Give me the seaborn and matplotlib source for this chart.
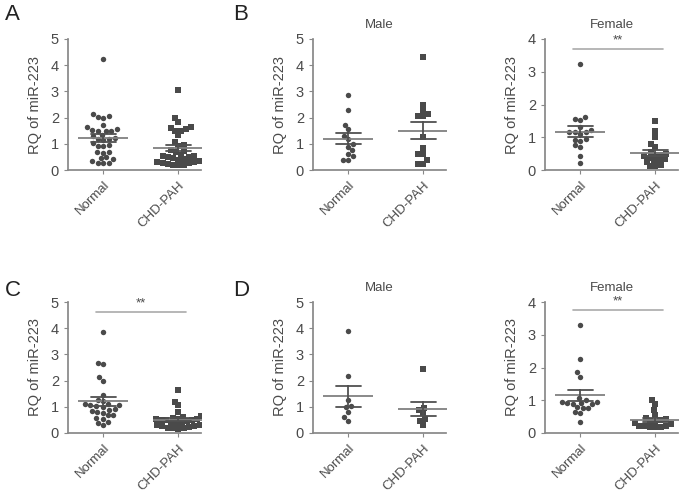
import pandas as pd
import matplotlib
matplotlib.use('Agg')
import matplotlib.pyplot as plt
import seaborn as sns

groups = ['Normal', 'CHD-PAH']

# A: all patients
a_normal = [4.25, 2.14, 2.05, 2.03, 1.97, 1.72, 1.63, 1.55, 1.52, 1.5, 1.5, 1.5, 1.35, 1.3,
            1.22, 1.2, 1.18, 1.15, 1.03, 0.95, 0.93, 0.9, 0.7, 0.68, 0.65, 0.48, 0.45, 0.42,
            0.35, 0.28, 0.27, 0.27]
a_chd = [3.05, 1.97, 1.82, 1.63, 1.6, 1.55, 1.5, 1.47, 1.33, 1.05, 0.95, 0.9, 0.78, 0.72,
         0.7, 0.58, 0.55, 0.52, 0.5, 0.48, 0.45, 0.42, 0.4, 0.35, 0.32, 0.3, 0.28, 0.25,
         0.22, 0.2, 0.2, 0.18]

# B: by sex
b_male_normal = [2.88, 2.28, 1.72, 1.55, 1.3, 1.18, 1.0, 0.88, 0.75, 0.62, 0.52, 0.4, 0.4]
b_male_chd = [4.3, 2.5, 2.3, 2.15, 2.08, 2.05, 1.25, 0.85, 0.6, 0.6, 0.38, 0.22, 0.22]
b_female_normal = [3.25, 1.63, 1.55, 1.52, 1.3, 1.22, 1.17, 1.15, 1.15, 1.1, 0.95, 0.92,
                   0.9, 0.75, 0.7, 0.42, 0.2]
b_female_chd = [1.5, 1.2, 1.0, 0.8, 0.7, 0.55, 0.5, 0.45, 0.45, 0.42, 0.38, 0.33, 0.3,
                0.28, 0.25, 0.15, 0.13, 0.13]

# C: all patients (second cohort)
c_normal = [3.85, 2.68, 2.62, 2.15, 2.0, 1.45, 1.25, 1.22, 1.12, 1.1, 1.05, 1.05, 1.02,
            1.0, 0.9, 0.88, 0.85, 0.82, 0.78, 0.7, 0.68, 0.58, 0.55, 0.42, 0.4, 0.3]
c_chd = [1.65, 1.2, 1.05, 0.82, 0.65, 0.62, 0.58, 0.55, 0.55, 0.52, 0.5, 0.5, 0.48, 0.45,
         0.4, 0.38, 0.35, 0.32, 0.3, 0.28, 0.25, 0.22, 0.2, 0.18, 0.18, 0.17]

# D: by sex
d_male_normal = [3.88, 2.18, 1.25, 1.02, 0.98, 0.8, 0.6, 0.45]
d_male_chd = [2.45, 0.97, 0.88, 0.75, 0.55, 0.45, 0.3]
d_female_normal = [3.3, 2.27, 1.85, 1.72, 1.07, 1.0, 0.95, 0.94, 0.93, 0.92, 0.9, 0.9,
                   0.8, 0.77, 0.75, 0.65, 0.6, 0.35]
d_female_chd = [1.02, 0.9, 0.7, 0.55, 0.46, 0.43, 0.41, 0.38, 0.34, 0.3, 0.28, 0.22, 0.2,
                0.2, 0.18, 0.18, 0.17]

sns.set_theme(style='ticks')
plt.rcParams['font.family'] = ['Liberation Sans', 'DejaVu Sans']
plt.rcParams['axes.edgecolor'] = '#888888'
plt.rcParams['xtick.color'] = '#888888'
plt.rcParams['ytick.color'] = '#888888'
plt.rcParams['xtick.labelcolor'] = '#4a4a4a'
plt.rcParams['ytick.labelcolor'] = '#4a4a4a'

fig = plt.figure(figsize=(7, 4.93), dpi=100)

W, H = 700, 493


def make_axes(left_px, top_px, bottom_px, width_px=133):
    return fig.add_axes([left_px / W, 1 - bottom_px / H, width_px / W, (bottom_px - top_px) / H])


def panel(ax, normal, chd, ymax, title=None, sig=None):
    df = pd.DataFrame({
        'group': ['Normal'] * len(normal) + ['CHD-PAH'] * len(chd),
        'value': normal + chd,
    })
    sns.swarmplot(data=df[df['group'] == 'Normal'], x='group', y='value', order=groups,
                  marker='o', color='#4a4a4a', size=3.9, linewidth=0, ax=ax, zorder=2)
    sns.swarmplot(data=df[df['group'] == 'CHD-PAH'], x='group', y='value', order=groups,
                  marker='s', color='#4a4a4a', size=3.7, linewidth=0, ax=ax, zorder=2)
    sns.pointplot(data=df, x='group', y='value', order=groups, estimator='mean',
                  errorbar='se', capsize=0.34, marker='_', markersize=36,
                  markeredgewidth=1.3, linestyle='none', color='#808080',
                  err_kws={'color': '#505050', 'linewidth': 1.3}, ax=ax)
    ax.set_xlim(-0.47, 1.3)
    ax.set_ylim(0, ymax)
    ax.set_yticks(range(0, ymax + 1))
    ax.set_xlabel('')
    ax.set_ylabel('RQ of miR-223', fontsize=10.5, color='#4a4a4a', labelpad=6)
    ax.tick_params(axis='both', labelsize=10.5, length=3, width=0.8)
    ax.tick_params(axis='x', labelsize=9.5)
    for lab in ax.get_xticklabels():
        lab.set_rotation(45)
        lab.set_ha('right')
        lab.set_rotation_mode('anchor')
    sns.despine(ax=ax)
    if title:
        ax.text(0.5, 1.11, title, transform=ax.transAxes, ha='center', va='center',
                fontsize=9.5, color='#4a4a4a')
    if sig is not None:
        ax.plot([-0.1, 1.1], [sig, sig], color='#aaaaaa', linewidth=1.2, clip_on=False)
        ax.text(0.5, sig + 0.02 * ymax, '**', ha='center', va='bottom', fontsize=9.5,
                color='#4a4a4a', clip_on=False)


ax_a = make_axes(68, 39, 170)
ax_bm = make_axes(313, 39, 170)
ax_bf = make_axes(545, 39, 170)
ax_c = make_axes(68, 302, 433)
ax_dm = make_axes(313, 302, 433)
ax_df = make_axes(545, 302, 433)

panel(ax_a, a_normal, a_chd, 5)
panel(ax_bm, b_male_normal, b_male_chd, 5, title='Male')
panel(ax_bf, b_female_normal, b_female_chd, 4, title='Female', sig=3.7)
panel(ax_c, c_normal, c_chd, 5, sig=4.6)
panel(ax_dm, d_male_normal, d_male_chd, 5, title='Male')
panel(ax_df, d_female_normal, d_female_chd, 4, title='Female', sig=3.75)

for letter, x, y in [('A', 5, 15), ('B', 233, 15), ('C', 5, 290), ('D', 233, 290)]:
    fig.text(x / W, 1 - y / H, letter, fontsize=16, ha='left', va='center', color='#222222')

plt.savefig('out.png', dpi=100)
plt.close()
